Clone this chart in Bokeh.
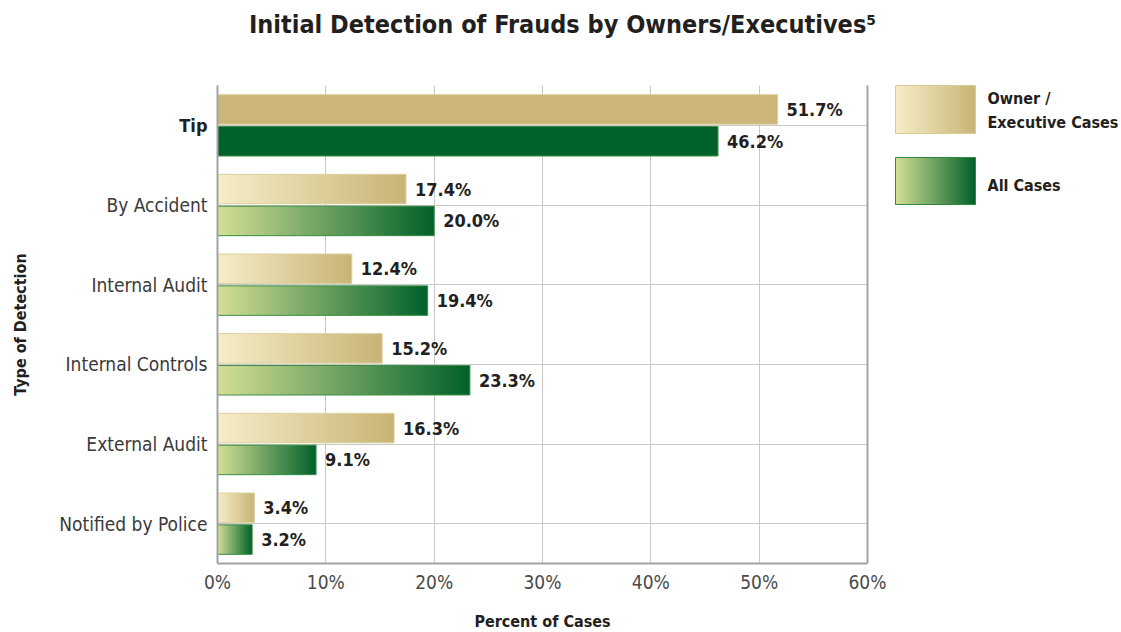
import numpy as np
from bokeh.plotting import figure
from bokeh.models import (ColumnDataSource, FixedTicker, PrintfTickFormatter, Range1d,
                          LinearAxis, Grid)
from bokeh.embed import file_html
from bokeh.resources import INLINE
from bokeh.core.properties import value

# ---------------- data ----------------
categories = ["Tip", "By Accident", "Internal Audit", "Internal Controls",
              "External Audit", "Notified by Police"]
owner_pct = [51.7, 17.4, 12.4, 15.2, 16.3, 3.4]
all_pct = [46.2, 20.0, 19.4, 23.3, 9.1, 3.2]
x_ticks = [0, 10, 20, 30, 40, 50, 60]
legend_lines = ["Owner /", "Executive Cases", "All Cases"]
title_text = "Initial Detection of Frauds by Owners/Executives\u2075"
x_title = "Percent of Cases"
y_title = "Type of Detection"

# ---------------- style / layout ----------------
FONT = "DejaVu Sans Condensed"
TAN_START, TAN_END, TAN_SOLID, TAN_LINE = "#F6EDC8", "#C8B476", "#CBB677", "#DDD1A0"
GRN_START, GRN_END, GRN_SOLID, GRN_LINE = "#D5DF95", "#00612A", "#00612A", "#3C8E45"
GRID = "#C8C8C8"
AXIS = "#A3A3A3"
TEXT = "#231F20"

W, H = 1121, 632
PL, PR, PT, PB = 217, 867, 85, 563      # plot area in page pixels
X_MAX = x_ticks[-1]
ncat = len(categories)
ppx = (PR - PL) / X_MAX                  # pixels per percent
ppy = (PB - PT) / ncat                   # pixels per category
X0, X1 = -PL / ppx, (W - PL) / ppx
Y0, Y1 = -(H - PB) / ppy, ncat + PT / ppy


def dx(px):
    return X0 + px / ppx


def dy(py):
    return Y1 - py / ppy


def hex_to_rgb(h):
    h = h.lstrip("#")
    return tuple(int(h[i:i + 2], 16) for i in (0, 2, 4))


def lerp(c1, c2, t):
    a, b = hex_to_rgb(c1), hex_to_rgb(c2)
    return "#%02x%02x%02x" % tuple(int(round(a[k] + (b[k] - a[k]) * t)) for k in range(3))


def gradient_slices(x0, x1, c1, c2, n):
    n = max(int(n), 6)
    edges = np.linspace(x0, x1, n + 1)
    w = (x1 - x0) / n
    lefts, rights, cols = [], [], []
    for k in range(n):
        lefts.append(edges[k])
        rights.append(min(edges[k + 1] + 0.6 * w, x1))
        cols.append(lerp(c1, c2, (k + 0.5) / n))
    return lefts, rights, cols


centers = [ncat - i - 0.5 for i in range(ncat)]
bar_h = 0.37
off = 0.2

p = figure(width=W, height=H, x_range=Range1d(X0, X1), y_range=Range1d(Y0, Y1),
           output_backend="svg", toolbar_location=None,
           min_border_left=0, min_border_right=0, min_border_top=0, min_border_bottom=0)
p.outline_line_color = None

# ---------------- grid ----------------
p.xgrid.ticker = FixedTicker(ticks=x_ticks)
p.ygrid.ticker = FixedTicker(ticks=centers)
p.grid.grid_line_color = GRID
p.grid.grid_line_width = 1
if "cross_bounds" in Grid.properties():
    p.xgrid.cross_bounds = (0, ncat)
    p.ygrid.cross_bounds = (0, X_MAX)
else:
    p.grid.visible = False
    p.segment(x0=x_ticks, y0=[0] * len(x_ticks), x1=x_ticks, y1=[ncat] * len(x_ticks),
              line_color=GRID, line_width=1, level="underlay")
    p.segment(x0=[0] * ncat, y0=centers, x1=[X_MAX] * ncat, y1=centers,
              line_color=GRID, line_width=1, level="underlay")

# ---------------- bars ----------------
sl = dict(left=[], right=[], y=[], color=[])
outl = dict(left=[], right=[], y=[], line=[])
for i in range(ncat):
    for vals, yy, c1, c2, solid, lc in (
            (owner_pct, centers[i] + off, TAN_START, TAN_END, TAN_SOLID, TAN_LINE),
            (all_pct, centers[i] - off, GRN_START, GRN_END, GRN_SOLID, GRN_LINE)):
        v = vals[i]
        if i == 0:
            L, R, C = [0], [v], [solid]
        else:
            L, R, C = gradient_slices(0, v, c1, c2, v * ppx / 2)
        sl["left"] += L
        sl["right"] += R
        sl["y"] += [yy] * len(L)
        sl["color"] += C
        outl["left"].append(0)
        outl["right"].append(v)
        outl["y"].append(yy)
        outl["line"].append(lc)

p.hbar(y="y", left="left", right="right", height=bar_h, fill_color="color",
       line_color=None, source=ColumnDataSource(sl))
p.hbar(y="y", left="left", right="right", height=bar_h, fill_alpha=0,
       line_color="line", line_width=1, source=ColumnDataSource(outl))

lab = dict(x=owner_pct + all_pct,
           y=[c + off for c in centers] + [c - off for c in centers],
           t=["%.1f%%" % v for v in owner_pct] + ["%.1f%%" % v for v in all_pct])
p.text(x="x", y="y", text="t", source=ColumnDataSource(lab), x_offset=9,
       text_baseline="middle", text_align="left", text_font=value(FONT),
       text_font_style="bold", text_font_size="18px", text_color=TEXT)

# ---------------- axes ----------------
xa = p.xaxis[0]
xa.fixed_location = 0
xa.bounds = (0, X_MAX)
xa.ticker = FixedTicker(ticks=x_ticks)
xa.formatter = PrintfTickFormatter(format="%d%%")
xa.axis_label = x_title
xa.axis_label_standoff = 16
xa.major_label_standoff = 7
xa.major_label_text_font = FONT
xa.major_label_text_font_size = "19px"
xa.major_label_text_color = "#4A4A4A"
xa.axis_label_text_font = FONT
xa.axis_label_text_font_style = "bold"
xa.axis_label_text_font_size = "16px"
xa.axis_label_text_color = TEXT

ya = p.yaxis[0]
ya.fixed_location = 0
ya.bounds = (0, ncat)
ya.ticker = FixedTicker(ticks=centers[1:])
ya.major_label_overrides = {c: categories[i + 1] for i, c in enumerate(centers[1:])}
ya.major_label_standoff = 10
ya.major_label_text_font = FONT
ya.major_label_text_font_size = "19px"
ya.major_label_text_color = "#3A3A3A"

ra = LinearAxis(fixed_location=X_MAX, bounds=(0, ncat), ticker=FixedTicker(ticks=[]))
p.add_layout(ra, "right")

for ax in p.axis:
    ax.axis_line_color = AXIS
    ax.axis_line_width = 2
    ax.major_tick_line_color = None
    ax.minor_tick_line_color = None
    ax.major_tick_out = 0
    ax.major_tick_in = 0
    ax.minor_tick_out = 0
    ax.minor_tick_in = 0

# bold first category, y title, chart title
p.text(x=[0], y=[centers[0]], x_offset=-10, text=[categories[0]], text_align="right",
       text_baseline="middle", text_font=value(FONT), text_font_style="bold",
       text_font_size="18px", text_color=TEXT)
p.text(x=[dx(20)], y=[ncat / 2], text=[y_title], angle=np.pi / 2, text_align="center",
       text_baseline="middle", text_font=value(FONT), text_font_style="bold",
       text_font_size="16px", text_color=TEXT)
p.text(x=[dx(562)], y=[dy(24)], text=[title_text], text_align="center", text_baseline="middle",
       text_font=value(FONT), text_font_style="bold", text_font_size="25px", text_color=TEXT)

# ---------------- legend ----------------
swatches = [(85, 133, TAN_START, TAN_END, "#D8CB98"), (157, 204, GRN_START, GRN_END, "#2E8B3E")]
for top, bottom, c1, c2, lc in swatches:
    L, R, C = gradient_slices(dx(895), dx(975), c1, c2, 40)
    p.quad(left=L, right=R, top=dy(top), bottom=dy(bottom), fill_color=C, line_color=None)
    p.quad(left=[dx(895)], right=[dx(975)], top=[dy(top)], bottom=[dy(bottom)], fill_alpha=0,
           line_color=lc, line_width=1)
p.text(x=[dx(987)] * 3, y=[dy(98), dy(122), dy(185)], text=legend_lines,
       text_baseline="middle", text_align="left", text_font=value(FONT),
       text_font_style="bold", text_font_size="16px", text_color=TEXT)

open("out.html", "w").write(file_html(p, INLINE))
